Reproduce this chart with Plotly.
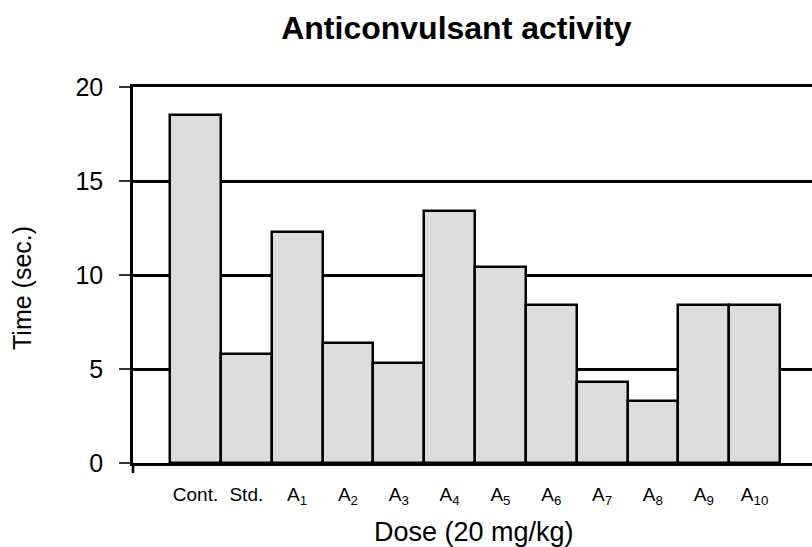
import plotly.graph_objects as go

categories = ["Cont.", "Std.", "A1", "A2", "A3", "A4", "A5", "A6", "A7", "A8", "A9", "A10"]
tick_labels = ["Cont.", "Std.", "A<sub>1</sub>", "A<sub>2</sub>", "A<sub>3</sub>", "A<sub>4</sub>",
               "A<sub>5</sub>", "A<sub>6</sub>", "A<sub>7</sub>", "A<sub>8</sub>", "A<sub>9</sub>", "A<sub>10</sub>"]
values = [18.5, 5.8, 12.3, 6.4, 5.3, 13.4, 10.4, 8.4, 4.3, 3.3, 8.4, 8.4]
y_ticks = [0, 5, 10, 15, 20]

font = "Liberation Sans, Arial, sans-serif"
xs = list(range(len(values)))

fig = go.Figure(go.Bar(
    x=xs, y=values, width=1.0,
    marker=dict(color="#dcdcdc", line=dict(color="black", width=2.5)),
))

fig.update_layout(
    width=812, height=547,
    margin=dict(l=133, r=0, t=87, b=84),
    paper_bgcolor="white", plot_bgcolor="white",
    showlegend=False,
    font=dict(family=font, color="black"),
    title=dict(text="<b>Anticonvulsant activity</b>", x=0.562, xanchor="center",
               y=1 - 28 / 547, yanchor="middle", font=dict(size=32, family=font)),
    bargap=0,
)

fig.update_xaxes(
    range=[-1.23, 12.13], tickmode="array", tickvals=xs, ticktext=tick_labels,
    tickfont=dict(size=19), ticks="", showgrid=False, zeroline=False,
    showline=True, linecolor="black", linewidth=3, ticklabelstandoff=12, mirror=True,
)
fig.update_yaxes(
    range=[0, 20], tickmode="array", tickvals=y_ticks, ticktext=[str(v) for v in y_ticks],
    tickfont=dict(size=25), ticks="outside", ticklen=11, tickwidth=2, tickcolor="#333",
    showgrid=True, gridcolor="black", gridwidth=3, zeroline=False,
    showline=True, linecolor="black", linewidth=2.5, ticklabelstandoff=11,
)

# y-axis line extension below zero
fig.add_shape(type="line", xref="paper", yref="paper", x0=0, x1=0, y0=0, y1=-10 / 376,
              line=dict(color="black", width=2.5))

fig.add_annotation(text="Dose (20 mg/kg)", xref="paper", yref="paper",
                   x=(474 - 133) / 679, y=-(532 - 463) / 376, xanchor="center", yanchor="middle",
                   showarrow=False, font=dict(size=27, family=font))
fig.add_annotation(text="Time (sec.)", xref="paper", yref="paper",
                   x=-(133 - 22) / 679, y=(463 - 288) / 376, xanchor="center", yanchor="middle",
                   textangle=-90, showarrow=False, font=dict(size=25, family=font))

fig.write_html("out.html", config={"displayModeBar": False},
               post_script="document.body.style.margin='0';document.body.style.overflow='hidden';")
